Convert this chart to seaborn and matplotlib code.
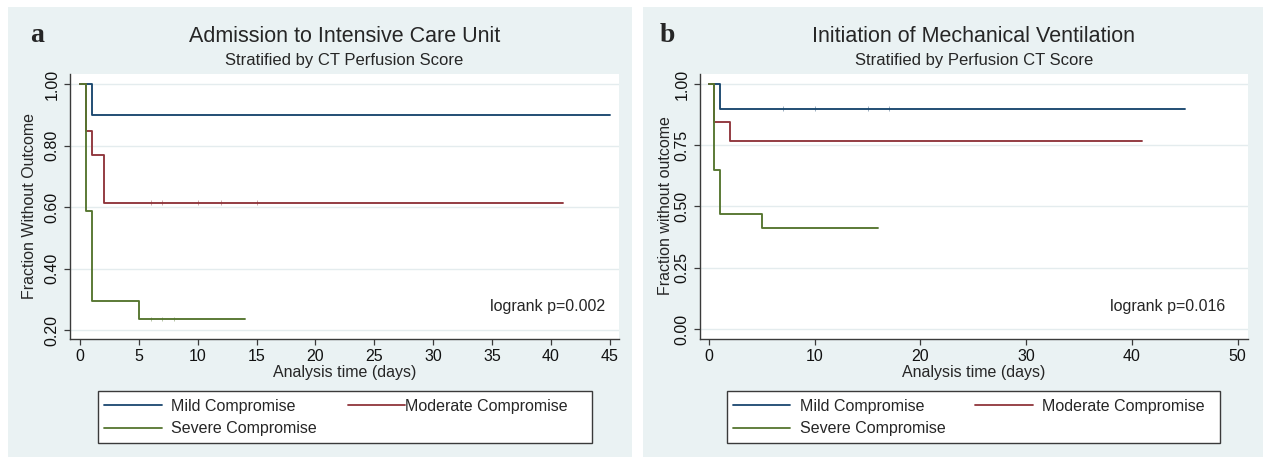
import pandas as pd
import matplotlib.pyplot as plt
from matplotlib.patches import Rectangle
from matplotlib.lines import Line2D
import seaborn as sns

# groups and Stata s2color palette
groups = ["Mild Compromise", "Moderate Compromise", "Severe Compromise"]
colors = ["#1A476F", "#90353B", "#55752F"]

# panel a - admission to ICU (KM step points, days / survival)
a_mild_t = [0, 1, 45]
a_mild_s = [1.0, 0.90, 0.90]
a_mod_t = [0, 0.5, 1, 2, 41]
a_mod_s = [1.0, 0.846, 0.769, 0.615, 0.615]
a_sev_t = [0, 0.5, 1, 5, 14]
a_sev_s = [1.0, 0.588, 0.294, 0.235, 0.235]
a_cens = {"Mild Compromise": [], "Moderate Compromise": [6, 7, 10, 12, 15],
          "Severe Compromise": [6, 7, 8]}

# panel b - initiation of mechanical ventilation
b_mild_t = [0, 1, 45]
b_mild_s = [1.0, 0.90, 0.90]
b_mod_t = [0, 0.5, 2, 41]
b_mod_s = [1.0, 0.846, 0.769, 0.769]
b_sev_t = [0, 0.5, 1, 5, 16]
b_sev_s = [1.0, 0.647, 0.471, 0.412, 0.412]
b_cens = {"Mild Compromise": [7, 10, 15, 17], "Moderate Compromise": [],
          "Severe Compromise": []}

a_xticks = [0, 5, 10, 15, 20, 25, 30, 35, 40, 45]
a_yticks = [0.20, 0.40, 0.60, 0.80, 1.00]
b_xticks = [0, 10, 20, 30, 40, 50]
b_yticks = [0.00, 0.25, 0.50, 0.75, 1.00]

sns.set_style("white")
plt.rcParams["font.family"] = ["Liberation Sans", "DejaVu Sans"]

W, H = 1266, 457
fig = plt.figure(figsize=(W / 100, H / 100), dpi=100)
fig.patch.set_facecolor("white")


def fx(x):
    return x / W


def fy(y):
    return 1 - y / H


def step_val(t, s, c):
    v = s[0]
    for ti, si in zip(t, s):
        if ti <= c:
            v = si
    return v


def make_df(series):
    rows = []
    for g, (t, s) in zip(groups, series):
        for ti, si in zip(t, s):
            rows.append((g, ti, si))
    return pd.DataFrame(rows, columns=["group", "time", "surv"])


def make_cens(series, cens):
    rows = []
    for g, (t, s) in zip(groups, series):
        for c in cens[g]:
            rows.append((g, c, step_val(t, s, c)))
    return pd.DataFrame(rows, columns=["group", "time", "surv"])


panels = [
    dict(bg=(8, 632), ax=(70, 619), series=[(a_mild_t, a_mild_s), (a_mod_t, a_mod_s), (a_sev_t, a_sev_s)],
         cens=a_cens, xlim=(-0.85, 45.8), ylim=(0.171, 1.033), xticks=a_xticks, yticks=a_yticks,
         letter="a", title="Admission to Intensive Care Unit", sub="Stratified by CT Perfusion Score",
         ylabel="Fraction Without Outcome", ylab_x=30, p="logrank p=0.002", p_x=605,
         leg=(98.3, 591.7), col1=104, col2=347.7, pad2=0.0),
    dict(bg=(643, 1263), ax=(700, 1247.7), series=[(b_mild_t, b_mild_s), (b_mod_t, b_mod_s), (b_sev_t, b_sev_s)],
         cens=b_cens, xlim=(-0.85, 50.96), ylim=(-0.041, 1.041), xticks=b_xticks, yticks=b_yticks,
         letter="b", title="Initiation of Mechanical Ventilation", sub="Stratified by Perfusion CT Score",
         ylabel="Fraction without outcome", ylab_x=665, p="logrank p=0.016", p_x=1225,
         leg=(726.7, 1220), col1=732.5, col2=975, pad2=0.6),
]

pal = dict(zip(groups, colors))
top, bottom = 74, 339

for P in panels:
    fig.patches.append(Rectangle((fx(P["bg"][0]), 0), (P["bg"][1] - P["bg"][0]) / W, fy(7),
                                 transform=fig.transFigure, facecolor="#EAF2F3", edgecolor="none", zorder=0))
    x0, x1 = P["ax"]
    ax = fig.add_axes([fx(x0), fy(bottom), (x1 - x0) / W, (bottom - top) / H])
    ax.set_facecolor("white")
    ax.set_zorder(2)

    df = make_df(P["series"])
    sns.lineplot(data=df, x="time", y="surv", hue="group", palette=pal, estimator=None,
                 drawstyle="steps-post", linewidth=1.35, legend=False, ax=ax, zorder=3)
    # faint censoring ticks
    cdf = make_cens(P["series"], P["cens"])
    if len(cdf):
        sns.scatterplot(data=cdf, x="time", y="surv", hue="group", palette=pal, marker="|",
                        s=9, linewidth=0.5, alpha=0.6, legend=False, ax=ax, zorder=3)

    ax.set_xlim(*P["xlim"])
    ax.set_ylim(*P["ylim"])
    ax.set_xticks(P["xticks"])
    ax.set_xticklabels([str(v) for v in P["xticks"]])
    ax.set_yticks(P["yticks"])
    ax.set_yticklabels([f"{v:.2f}" for v in P["yticks"]], rotation=90, va="center")
    ax.set_xlabel("")
    ax.set_ylabel("")
    ax.grid(axis="y", color="#E4ECEE", linewidth=1.0)
    ax.grid(axis="x", visible=False)
    for side in ["top", "right"]:
        ax.spines[side].set_visible(False)
    for side in ["left", "bottom"]:
        ax.spines[side].set_color("#3A3A3A")
        ax.spines[side].set_linewidth(1.0)
    ax.tick_params(axis="both", direction="out", length=4.3, width=0.9, color="#3A3A3A",
                   labelsize=11.5, labelcolor="#111111", pad=3)
    ax.tick_params(axis="x", bottom=True)
    ax.tick_params(axis="y", left=True)

    cx = (x0 + x1) / 2
    fig.text(fx(P["ax"][0] - 40), fy(36), P["letter"], family=["Liberation Serif", "DejaVu Serif"],
             fontweight="bold", fontsize=20, ha="left", va="center")
    fig.text(fx(cx), fy(36), P["title"], fontsize=15.5, ha="center", va="center")
    fig.text(fx(cx), fy(61), P["sub"], fontsize=12, ha="center", va="center")
    fig.text(fx(P["ylab_x"]), fy(206), P["ylabel"], fontsize=11.5, rotation=90, ha="center", va="center")
    fig.text(fx(cx), fy(373), "Analysis time (days)", fontsize=11.5, ha="center", va="center")
    fig.text(fx(P["p_x"]), fy(306), P["p"], fontsize=11.5, ha="right", va="center", zorder=5)

    # legend box and two columns
    lx0, lx1 = P["leg"]
    fig.patches.append(Rectangle((fx(lx0), fy(442.5)), (lx1 - lx0) / W, (442.5 - 391) / H,
                                 transform=fig.transFigure, facecolor="white", edgecolor="#3A3A3A",
                                 linewidth=1.0, zorder=1))
    h = {g: Line2D([], [], color=c, linewidth=1.3) for g, c in zip(groups, colors)}
    leg1 = fig.legend([h[groups[0]], h[groups[2]]], [groups[0], groups[2]], loc="upper left",
                      bbox_to_anchor=(fx(P["col1"]), fy(399)), frameon=False, fontsize=11.5,
                      handlelength=3.6, handletextpad=0.6, borderpad=0, borderaxespad=0,
                      labelspacing=0.45)
    leg2 = fig.legend([h[groups[1]]], [groups[1]], loc="upper left",
                      bbox_to_anchor=(fx(P["col2"]), fy(399)), frameon=False, fontsize=11.5,
                      handlelength=3.6, handletextpad=P["pad2"], borderpad=0, borderaxespad=0)
    leg1.set_zorder(3)
    leg2.set_zorder(3)

plt.savefig("out.png", dpi=100, facecolor="white")
